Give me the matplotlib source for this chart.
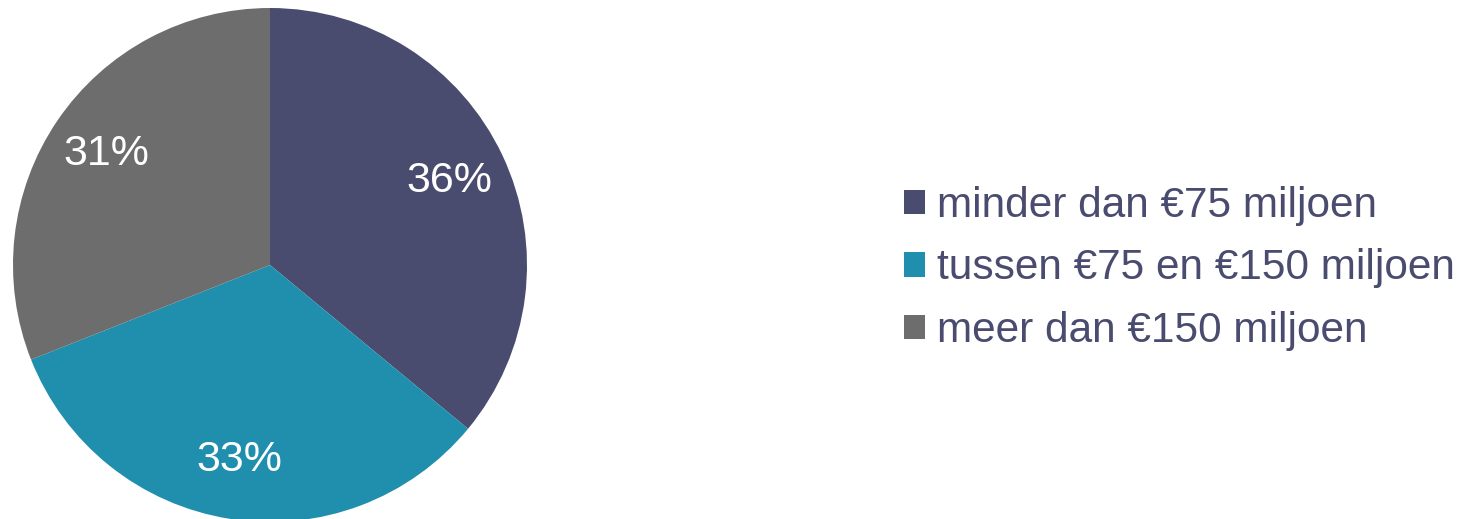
import matplotlib
matplotlib.use("Agg")
import matplotlib.pyplot as plt

categories = ["minder dan €75 miljoen", "tussen €75 en €150 miljoen", "meer dan €150 miljoen"]
values = [36, 33, 31]
colors = ["#4A4C6F", "#1F8FAD", "#6D6D6D"]
text_color = "#4A4C6F"

plt.rcParams['font.family'] = ['Liberation Sans', 'DejaVu Sans']

W, H = 1470, 519
fig = plt.figure(figsize=(W / 100, H / 100), dpi=100)

cx, cy, r = 270, 265, 257
ax = fig.add_axes([(cx - r) / W, (H - cy - r) / H, 2 * r / W, 2 * r / H])
wedges, texts, autotexts = ax.pie(
    values, colors=colors, startangle=90, counterclock=False,
    autopct=lambda p: f"{p:.0f}%", pctdistance=0.77, radius=1,
    textprops=dict(color="white", fontsize=31),
    wedgeprops=dict(linewidth=0))
ax.set_xlim(-1, 1)
ax.set_ylim(-1, 1)
ax.set_aspect('equal')
ax.axis('off')

fig.legend(wedges, categories, loc='center left',
           bbox_to_anchor=(904 / W, (H - 268.5) / H),
           frameon=False, fontsize=30.5, labelcolor=text_color,
           handlelength=0.5, handleheight=0.5, handletextpad=0.28,
           labelspacing=0.54, borderpad=0, borderaxespad=0)

fig.savefig("out.png", dpi=100)
